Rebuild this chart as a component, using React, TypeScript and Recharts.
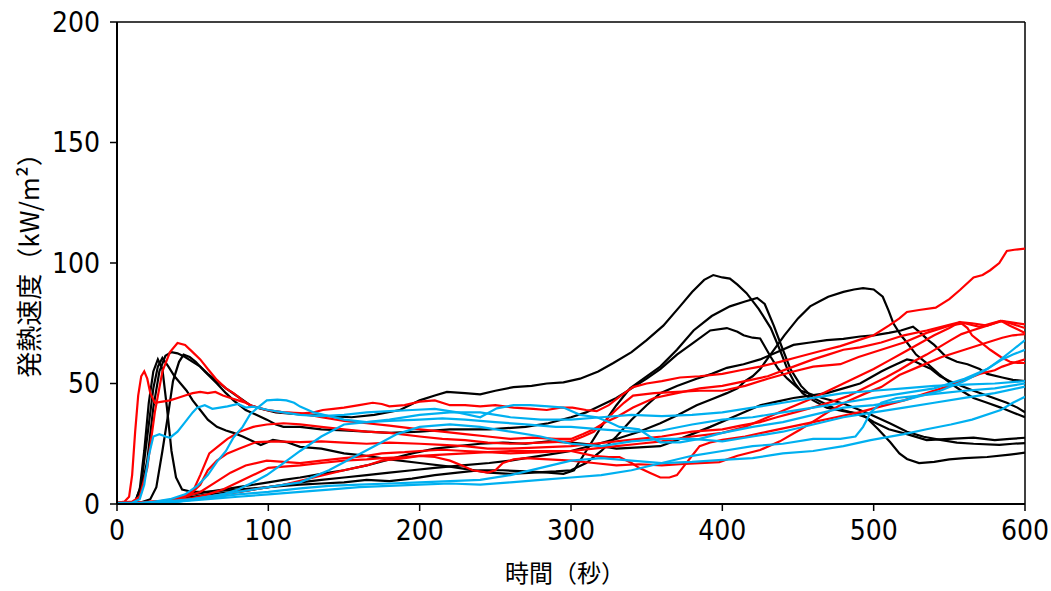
import React from 'react';
import { LineChart, Line, XAxis, YAxis, ReferenceLine, Label } from 'recharts';

type P = [number, number];

// ---- black series ----
const black1: P[] = [[0,0],[8,0.3],[12,1],[15,6],[18,22],[21,42],[24,55],[27,60],[30,56],[33,40],[36,22],[39,11],[43,6],[50,5],[60,5],[70,5.5],[80,6],[90,6.5],[100,7],[110,7.5],[121,8],[135,8.5],[150,9],[165,10],[180,9.5],[195,10.5],[210,12],[225,13],[240,14],[255,14],[270,13.5],[285,13],[295,12.5],[302,14],[310,22],[320,32],[330,41],[339,48],[350,53],[359,57],[370,64],[381,72],[393,78],[405,82],[415,84],[423,85.5],[428,83],[434,74],[440,64],[445,56],[452,49],[460,44],[473,40],[485,38],[495,36],[503,31],[511,25.6],[517,21],[522,18.7],[530,17],[540,17.5],[550,18.5],[560,19],[575,19.5],[590,20.5],[600,21.3]];
const black2: P[] = [[0,0],[10,0.4],[15,3],[20,18],[24,40],[28,55],[32,61.5],[36,63],[40,62.5],[45,61],[50,59],[55,57],[60,54],[66,51],[72,48],[80,44.5],[88,41],[95,39.5],[105,38],[115,37.5],[125,37],[140,36.5],[155,36],[170,37],[187,39],[200,43],[210,45],[218,46.5],[230,46],[240,45.5],[250,47],[262,48.5],[274,49],[284,50],[295,50.5],[306,52],[318,55],[328,58.5],[340,63],[350,68],[361,74],[372,82],[380,88],[388,93],[394,95],[400,94],[405,93.5],[410,91],[416,87.5],[424,81],[432,73],[438,64],[443,56],[448,50],[453,46],[460,43],[469,40],[480,38.5],[491,37.5],[500,34],[510,31],[522,29],[535,26.5],[550,27],[566,27.5],[580,26.5],[590,27],[600,27.5]];
const black3: P[] = [[0,0],[15,0.5],[22,2],[26,7],[30,22],[34,38],[37,51],[41,59],[44,62],[48,61],[52,59],[58,55],[66,50],[72,46],[77,43],[85,39],[92,37],[99,35],[105,33],[110,32],[121,32],[135,31],[150,30.5],[165,30],[180,29.5],[200,30],[220,31],[246,31],[270,32],[285,33.5],[300,36],[310,38],[320,41],[330,44],[340,48],[350,52],[359,56],[370,62],[381,67],[392,72],[403,73],[410,71.5],[414,70],[420,69],[425,68.7],[432,61],[437,56],[443,52],[452,47],[466,44],[480,41.7],[495,38],[511,33.4],[522,30],[533,27.9],[545,26.5],[555,25.5],[566,25],[583,24.5],[592,25],[600,25.3]];
const black4: P[] = [[0,0],[12,0.8],[16,8],[20,28],[24,48],[27,57],[30,60.6],[34,57],[38,53],[42,50],[46,47],[50,43],[55,39],[60,35],[66,32],[72,30.5],[77,29.5],[83,28],[88,26.6],[95,24.5],[103,26.6],[112,25.7],[121,23.7],[135,23],[150,21],[165,20],[180,18.5],[200,17],[220,15.5],[246,13],[260,12.5],[275,13],[290,13.5],[300,14],[310,17],[320,22],[330,28],[340,35],[350,41],[359,46],[370,49],[383,52],[393,54],[403,56.5],[414,58],[425,60],[436,63],[447,66],[458,67],[469,68],[480,68.5],[491,69.5],[500,70],[510,71],[518,72],[526,73.6],[531,71],[536,68],[540,66],[548,61],[555,59],[562,58],[570,56],[575,54],[585,52.5],[592,51.5],[600,51]];
const black5: P[] = [[0,0],[20,0.4],[30,1],[40,2],[50,3],[60,4],[80,5],[100,7],[121,9],[135,10],[150,11],[165,12],[180,13],[195,14],[210,15],[228,16],[246,17],[260,18],[270,19],[285,20.5],[300,22],[315,24.5],[330,27],[345,30],[359,33.5],[371,37],[383,41],[393,43.5],[403,46],[410,48],[415,51],[420,53],[425,56],[433,63],[441,70],[450,77],[458,82],[464,84],[470,86],[480,88],[487,89],[493,89.6],[500,89],[506,86],[510,80],[513,75],[518,70],[522,67],[528,62],[535,58.5],[543,54],[551,50],[558,47],[566,44],[575,42],[584,40],[592,38],[600,36]];
const black6: P[] = [[0,0],[20,0.4],[30,1],[40,2.5],[50,4],[60,5],[70,6],[80,7],[90,8],[100,9],[110,10],[121,11],[135,12.5],[150,14],[165,16],[180,18.5],[195,21],[210,23],[225,24],[240,25],[255,25.5],[270,25],[285,26],[300,25.5],[315,24.5],[330,23],[345,23.5],[359,24],[370,26.5],[380,29],[392,32],[403,35],[414,38],[425,41],[436,42.5],[447,44],[458,45],[469,46],[480,48],[491,50],[498,52.5],[505,55],[510,56.5],[515,58],[522,60],[526,59.5],[531,58],[538,56],[544,53],[550,51],[556,49.5],[566,47],[577,44.5],[588,42],[595,40],[600,38]];

// ---- red series ----
const red1: P[] = [[0,0.5],[5,1],[8,3],[10,12],[12,30],[14,45],[16,53],[18,55],[20,52],[22,46],[25,42],[30,42.5],[35,43],[40,44],[45,45],[50,46],[55,46.5],[60,46],[65,46.5],[70,45],[75,44],[80,43],[85,42],[90,40.5],[99,39],[110,38],[121,37.5],[130,38],[136,39],[143,39.5],[150,40],[160,41],[169,42],[175,41.5],[180,40.5],[190,41],[200,42.5],[210,43],[220,41],[230,41],[240,40.5],[250,41],[262,40],[275,39.5],[284,39],[293,40],[301,40],[310,39],[317,38.5],[325,41],[333,45],[341,48.5],[350,50],[360,51],[372,52.5],[385,53],[400,54],[412,55.5],[425,57],[438,59],[450,61],[465,63.5],[478,65.5],[490,68],[500,70],[510,74],[517,77],[522,79.7],[530,80.5],[541,81.5],[550,85],[557,88.8],[566,94],[572,95],[577,97],[583,100],[588,105],[593,105.5],[600,106]];
const red2: P[] = [[0,0.5],[10,1],[15,3],[20,15],[25,38],[30,55],[35,63],[40,66.8],[45,66],[50,63],[55,60],[60,56],[66,51.5],[72,48],[77,46],[83,43],[88,41],[99,39],[110,38],[121,37.7],[135,36],[150,34.5],[165,33.5],[180,32.5],[200,31],[215,30],[230,29],[245,28],[260,27],[275,27.5],[290,27],[300,27],[308,29],[315,31],[323,34],[330,36],[341,40],[355,44],[370,46],[385,48],[400,49],[415,51],[430,53],[447,57],[460,60],[470,62],[480,64],[491,65],[505,67],[520,70],[535,72],[548,74],[557,75.5],[565,75],[575,74],[585,76],[590,75],[600,73]];
const red3: P[] = [[0,0.5],[20,0.8],[35,1.5],[45,3],[50,5],[55,12],[61,21],[67,24],[73,27],[81,30],[90,32],[99,33],[110,33.5],[121,33],[135,32],[150,31],[165,30],[180,29.5],[200,28],[215,27],[230,26.5],[245,25.5],[260,25],[280,25.5],[300,26],[308,28],[315,30],[322,34],[328,38],[335,42],[341,45],[355,46],[370,46.5],[385,47],[400,47],[415,49],[430,52],[447,55],[460,57],[478,58],[490,61],[505,64],[520,67],[535,71],[550,74],[560,75],[570,73.5],[578,75],[584,76],[590,75.5],[600,74.5]];
const red4: P[] = [[0,0.5],[25,0.8],[40,2],[50,5],[55,8],[60,14],[66,18],[73,21],[81,23],[92,25.7],[105,26],[121,25.7],[135,26],[150,25.5],[165,25],[180,25.5],[200,25],[215,24.5],[230,24],[245,23],[260,23],[280,23.5],[300,24],[315,25],[330,26],[345,27],[360,28],[380,30],[400,31],[412,32.5],[425,34],[436,36],[448,38],[457,39.5],[465,41],[475,43],[484,45],[492,47.5],[500,50],[508,52.5],[517,55.6],[526,59],[535,62],[543,65],[551,68],[558,70.5],[565,72],[575,74],[584,76],[590,74],[595,72.5],[600,71]];
const red5: P[] = [[0,0.5],[30,1],[45,3],[55,5],[65,9],[75,13],[85,16],[99,18],[110,17.5],[121,17],[135,18],[150,19],[165,20],[175,21],[190,21.5],[200,22],[215,22.5],[230,22],[245,21.5],[260,21],[280,21.5],[300,22],[315,23],[330,24],[345,25],[360,26],[380,28],[400,29.5],[415,32],[430,36],[445,40],[460,44],[470,47],[480,50],[490,53],[500,56],[510,59.5],[520,63],[530,66.5],[540,70],[550,73],[557,75.5],[562,73],[565,70],[570,67.5],[577,64],[584,61],[590,59],[595,58.5],[600,58.5]];
const red6: P[] = [[0,0.5],[30,1],[50,2.5],[60,4],[70,6],[80,9],[90,12],[100,15],[110,15.5],[121,16],[135,17],[150,18],[165,18.5],[175,19],[190,19.5],[200,20],[215,20.5],[230,21],[245,21.5],[260,22],[280,22],[300,22],[315,20],[325,19.5],[332,19.5],[340,17],[345,15],[352,13],[359,11],[365,11],[370,12],[375,16],[380,20],[385,24],[392,25.5],[400,26.6],[415,28],[430,30],[445,32],[460,34],[475,36],[490,38],[505,40.5],[520,43],[535,46],[550,49],[560,51.5],[570,54],[580,55.5],[585,57],[592,58.5],[600,60]];
const red7: P[] = [[0,0.5],[30,1],[50,2],[70,4],[90,6],[110,8],[130,11],[150,14],[165,16],[175,18],[190,19],[200,20],[210,19.5],[220,18],[228,16],[235,14],[245,13],[250,14],[255,17],[262,18.5],[270,19],[285,18.5],[300,18],[315,17],[330,16],[345,16.5],[360,16],[372,16.5],[385,17],[398,17.4],[410,20],[425,22.4],[438,26],[451,30.7],[462,35],[472,39],[484,43],[495,46],[505,48.5],[517,53.5],[530,57],[545,61],[560,64],[575,67],[585,69],[592,70],[600,70.5]];

// ---- blue series ----
const blue1: P[] = [[0,0.5],[10,0.5],[15,2],[18,8],[21,20],[24,28],[28,29],[32,28],[35,27.5],[40,30],[45,34],[50,38],[53,40],[58,41],[63,39.5],[68,40],[73,40.5],[80,41.5],[85,40],[90,40.4],[100,39],[110,38],[121,37],[135,36.5],[150,37],[165,38],[180,38.5],[195,39],[210,39.5],[225,38],[240,36],[251,39.7],[262,41],[273,41],[285,40.5],[295,40],[306,37],[317,36],[325,34],[332,32],[345,31],[352,28],[359,25.6],[372,25.6],[385,27],[400,29.5],[420,32],[440,34],[460,37],[480,40],[500,41],[520,43],[544,47],[560,51],[575,56],[584,60],[592,64],[600,68]];
const blue2: P[] = [[0,0],[20,0.5],[35,2],[45,4],[53,7.5],[60,12],[66,17.5],[72,22],[77,27.6],[83,32],[88,37.3],[93,40],[99,43],[106,43.3],[112,43],[117,42],[121,40.4],[130,38],[140,36.5],[150,35],[165,34],[180,34.5],[200,35],[215,35.5],[230,35],[250,34],[270,33],[290,32],[300,32],[320,31],[340,30],[360,30.5],[380,33],[400,35],[420,36],[440,38],[460,40],[480,42],[500,44],[520,46],[540,48],[560,52],[575,56],[585,60],[592,62],[600,64]];
const blue3: P[] = [[0,0],[30,1],[50,2],[70,4],[80,6],[90,9],[99,12],[110,17],[121,22],[135,28],[150,33],[165,34],[180,35],[200,37],[220,38],[240,38],[260,36],[280,35],[300,35],[320,36],[340,37],[360,36.5],[380,37],[400,38],[420,40],[440,42],[460,44],[480,46],[500,47],[520,48],[540,49],[560,49.5],[580,50],[600,51]];
const blue4: P[] = [[0,0],[40,1],[60,3],[80,5],[100,7],[121,9],[140,14],[155,19],[170,24],[185,29],[200,32],[220,33],[240,32],[260,30],[280,28],[300,25],[320,24],[340,26],[360,27],[380,27],[400,26],[420,28],[440,30],[460,33],[480,36],[500,38],[520,40],[540,42],[560,44],[580,46],[600,48.7]];
const blue5: P[] = [[0,0],[40,1],[60,2.5],[80,4],[100,5],[121,6.5],[140,7.5],[160,8],[180,8.5],[200,9],[220,9.5],[240,10],[260,12],[280,15],[300,18],[320,19],[340,18],[360,17],[380,17.5],[400,18.3],[420,19],[440,21],[460,22],[480,24],[498,26.5],[520,29],[535,31],[551,33],[565,35],[584,39],[592,42],[600,44.5]];
const blue6: P[] = [[0,0],[40,1],[60,2],[80,3],[100,4],[121,5],[140,6],[160,7],[180,7.5],[200,8],[220,8.5],[240,8],[260,9],[280,10],[300,11],[320,12],[340,14],[360,17],[380,20],[400,22],[420,24],[440,25],[460,27],[478,27],[488,28],[493,32],[498,38],[505,42],[515,44],[530,45],[545,46],[560,47],[580,48],[600,50]];

const xTicks = [0, 100, 200, 300, 400, 500, 600];
const yTicks = [0, 50, 100, 150, 200];
const xTitle = '時間（秒）';
const yTitle = '発熱速度（kW/m²）';

const BLACK = '#000000';
const RED = '#FF0000';
const BLUE = '#00B0F0';

const groups: { color: string; list: P[][] }[] = [
  { color: BLACK, list: [black1, black2, black3, black4, black5, black6] },
  { color: RED, list: [red1, red2, red3, red4, red5, red6, red7] },
  { color: BLUE, list: [blue1, blue2, blue3, blue4, blue5, blue6] },
];

const toData = (s: P[]) => s.map(([t, v]) => ({ t, v }));

const numFont = "'Liberation Sans Narrow', 'Arial Narrow', 'DejaVu Sans Condensed', sans-serif";
const cjkFont = "'Noto Sans CJK JP', 'Noto Sans CJK SC', sans-serif";

const XTitle = (props: any) => {
  const vb = props.viewBox || {};
  return (
    <text x={vb.x + vb.width / 2 - 6} y={vb.y + 67} textAnchor="middle" dominantBaseline="central"
      fontFamily={cjkFont} fontSize={24} fill="#000">{xTitle}</text>
  );
};

const YTitle = (props: any) => {
  const vb = props.viewBox || {};
  const cx = vb.x + 10;
  const cy = vb.y + vb.height / 2 - 4;
  return (
    <text x={cx} y={cy} transform={`rotate(-90, ${cx}, ${cy})`} textAnchor="middle" dominantBaseline="central"
      fontFamily={cjkFont} fontSize={26} fill="#000">{yTitle}</text>
  );
};

export default function App() {
  let idx = 0;
  return (
    <div style={{ position: 'fixed', left: 0, top: 0, width: 1051, height: 591, background: '#fff' }}>
      <LineChart width={1051} height={591} margin={{ top: 22, right: 26, bottom: 0, left: 17 }}>
        <XAxis type="number" dataKey="t" domain={[0, 600]} ticks={xTicks} allowDataOverflow
          height={87} tickSize={7} tickMargin={9}
          axisLine={{ stroke: '#000', strokeWidth: 2 }} tickLine={{ stroke: '#000', strokeWidth: 1.5 }}
          tick={{ fill: '#000', fontSize: 28, fontFamily: numFont }}>
          <Label content={XTitle} />
        </XAxis>
        <YAxis type="number" domain={[0, 200]} ticks={yTicks} allowDataOverflow
          width={100} tickSize={7} tickMargin={10}
          axisLine={{ stroke: '#000', strokeWidth: 2 }} tickLine={{ stroke: '#000', strokeWidth: 1.5 }}
          tick={{ fill: '#000', fontSize: 28, fontFamily: numFont }}>
          <Label content={YTitle} />
        </YAxis>
        <ReferenceLine y={200} stroke="#000" strokeWidth={1.5} />
        <ReferenceLine x={600} stroke="#000" strokeWidth={1.5} />
        {groups.map((g) =>
          g.list.map((s) => {
            idx += 1;
            return (
              <Line key={`s${idx}`} data={toData(s)} dataKey="v" type="linear" stroke={g.color}
                strokeWidth={2.2} dot={false} activeDot={false} isAnimationActive={false} />
            );
          })
        )}
      </LineChart>
    </div>
  );
}
